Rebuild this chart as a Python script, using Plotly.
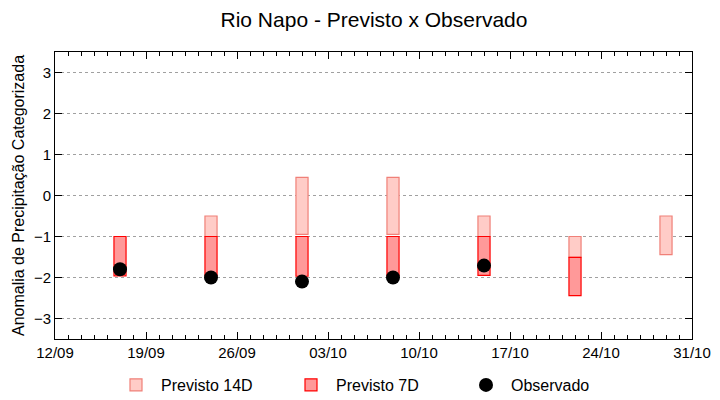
import plotly.graph_objects as go

dates = ['2024-09-17', '2024-09-24', '2024-10-01', '2024-10-08', '2024-10-15', '2024-10-22', '2024-10-29']
p14_top = [None, -0.5, 0.44, 0.44, -0.5, -1.0, -0.5]
p14_bot = [None, -1.0, -0.95, -0.95, -1.0, -1.51, -1.44]
p7_top = [-1.0, -1.0, -1.0, -1.0, -1.0, -1.51, None]
p7_bot = [-1.96, -1.95, -1.97, -1.95, -1.95, -2.44, None]
obs = [-1.80, -2.0, -2.1, -2.0, -1.71, None, None]

DAY = 86400000


def heights(top, bot):
    return [None if t is None else t - b for t, b in zip(top, bot)]


fig = go.Figure()
fig.add_trace(go.Bar(
    x=dates, y=heights(p14_top, p14_bot), base=p14_bot, width=0.93 * DAY,
    name='Previsto 14D',
    marker=dict(color='rgb(255,204,199)', line=dict(color='rgb(240,128,120)', width=1.2)),
))
fig.add_trace(go.Bar(
    x=dates, y=heights(p7_top, p7_bot), base=p7_bot, width=0.93 * DAY,
    name='Previsto 7D',
    marker=dict(color='rgb(255,153,153)', line=dict(color='rgb(255,0,0)', width=1.2)),
))
fig.add_trace(go.Scatter(
    x=dates, y=obs, mode='markers', name='Observado',
    marker=dict(color='black', size=14, symbol='circle'),
))

font = 'Liberation Sans, Arial, sans-serif'
fig.update_layout(
    width=720, height=400,
    margin=dict(l=47, r=36, t=44, b=69, autoexpand=False),
    paper_bgcolor='white', plot_bgcolor='white',
    barmode='overlay',
    title=dict(text='Rio Napo - Previsto x Observado', x=(374 - 8) / 720, xanchor='center',
               xref='container',
               y=1 - 12 / 400, yref='container', yanchor='middle',
               font=dict(family=font, size=21, color='black')),
    font=dict(family=font, size=15, color='black'),
    showlegend=True,
    legend=dict(orientation='h', x=0.5, xanchor='center', y=23 / 400, yref='container',
                yanchor='middle',
                font=dict(family=font, size=16, color='black'), bgcolor='rgba(0,0,0,0)',
                itemwidth=40, entrywidth=120, entrywidthmode='pixels'),
    xaxis=dict(
        type='date', range=['2024-09-12', '2024-10-31'], automargin=False,
        tick0='2024-09-12', dtick=7 * DAY, tickformat='%d/%m',
        ticks='inside', ticklen=7, tickcolor='black', tickwidth=1,
        showline=True, linecolor='black', linewidth=1, mirror='ticks',
        showgrid=False, zeroline=False,
        minor=dict(dtick=DAY, ticks='inside', ticklen=4, tickcolor='black', showgrid=False),
        tickfont=dict(family=font, size=15, color='black'),
    ),
    yaxis=dict(
        range=[-3.5, 3.5], dtick=1, tick0=0, automargin=False,
        ticks='inside', ticklen=7, tickcolor='black',
        showline=True, linecolor='black', linewidth=1, mirror='ticks',
        showgrid=True, gridcolor='rgb(160,160,160)', griddash='dot', gridwidth=1,
        zeroline=False,
        title=dict(text='Anomalia de Precipitação Categorizada', standoff=5,
                   font=dict(family=font, size=16, color='black')),
        tickfont=dict(family=font, size=15, color='black'),
    ),
)

fig.write_html('out.html')
